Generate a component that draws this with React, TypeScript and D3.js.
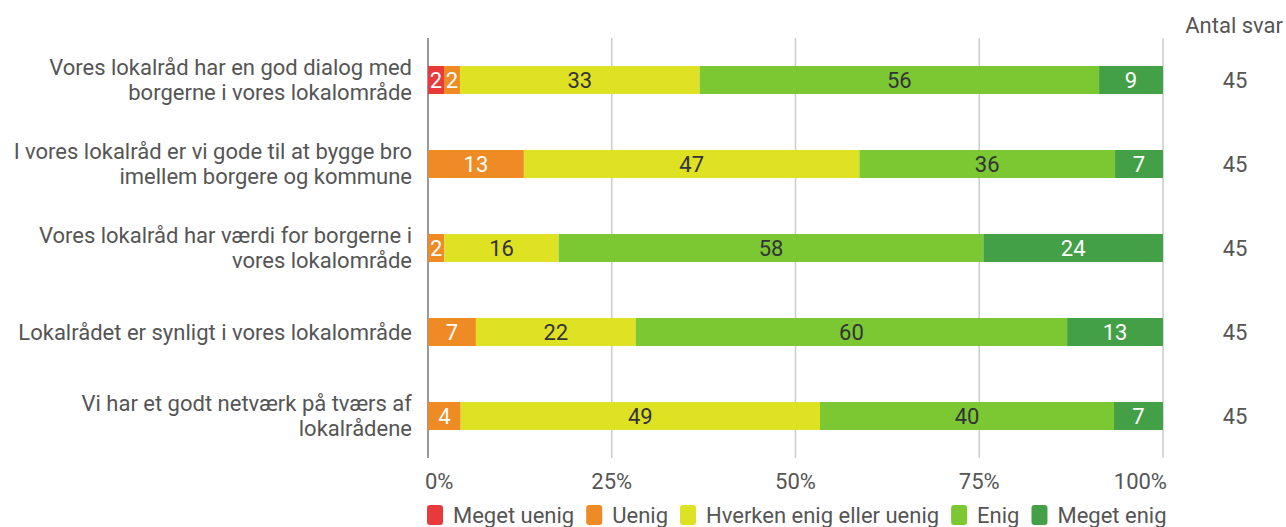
import { useRef, useEffect } from "react";
import * as d3 from "d3";

const questions = [
  ["Vores lokalråd har en god dialog med", "borgerne i vores lokalområde"],
  ["I vores lokalråd er vi gode til at bygge bro", "imellem borgere og kommune"],
  ["Vores lokalråd har værdi for borgerne i", "vores lokalområde"],
  ["Lokalrådet er synligt i vores lokalområde"],
  ["Vi har et godt netværk på tværs af", "lokalrådene"],
];

const answers = ["Meget uenig", "Uenig", "Hverken enig eller uenig", "Enig", "Meget enig"];
const colors = ["#e8393b", "#ee8b25", "#dfe123", "#7bc833", "#43a047"];
const textColors = ["#fff", "#fff", "#333", "#333", "#fff"];

// answer counts per question (bar widths)
const counts = [
  [1, 1, 15, 25, 4],
  [0, 6, 21, 16, 3],
  [0, 1, 7, 26, 11],
  [0, 3, 10, 27, 6],
  [0, 2, 22, 18, 3],
];
// percentage labels as shown
const pctLabels = [
  [2, 2, 33, 56, 9],
  [0, 13, 47, 36, 7],
  [0, 2, 16, 58, 24],
  [0, 7, 22, 60, 13],
  [0, 4, 49, 40, 7],
];
const antalSvar = [45, 45, 45, 45, 45];
const ticks = [0, 0.25, 0.5, 0.75, 1];

export default function App() {
  const ref = useRef<SVGSVGElement>(null);

  useEffect(() => {
    if (!ref.current) return;
    const W = 1286, H = 527;
    const svg = d3.select(ref.current);
    svg.selectAll("*").remove();
    const font = "Roboto, sans-serif";
    const fs = 22;
    const gray = "#555";

    const x = d3.scaleLinear().domain([0, 1]).range([428, 1163]);
    const y = d3.scaleBand<number>().domain(d3.range(questions.length)).range([38, 458])
      .paddingInner(2 / 3).paddingOuter(1 / 3);

    // Grid
    ticks.forEach((t, i) => {
      svg.append("line").attr("x1", x(t)).attr("x2", x(t)).attr("y1", 38).attr("y2", 458)
        .attr("stroke", i === 0 ? "#999" : "#ccc").attr("stroke-width", i === 0 ? 2 : 1.5);
      svg.append("text").attr("x", i === 0 ? x(t) - 3 : i === ticks.length - 1 ? x(t) + 4 : x(t))
        .attr("y", 481).attr("dy", "0.35em")
        .attr("text-anchor", i === 0 ? "start" : i === ticks.length - 1 ? "end" : "middle")
        .attr("font-family", font).attr("font-size", fs).attr("fill", gray)
        .text(`${Math.round(t * 100)}%`);
    });

    // Bars
    counts.forEach((row, r) => {
      const total = d3.sum(row);
      let acc = 0;
      row.forEach((c, k) => {
        if (c === 0) return;
        const x0 = x(acc / total);
        acc += c;
        const x1 = x(acc / total);
        svg.append("rect").attr("x", x0).attr("y", y(r)!).attr("width", x1 - x0)
          .attr("height", y.bandwidth()).attr("fill", colors[k]);
        svg.append("text").attr("x", (x0 + x1) / 2).attr("y", y(r)! + y.bandwidth() / 2)
          .attr("dy", "0.35em").attr("text-anchor", "middle")
          .attr("font-family", font).attr("font-size", fs).attr("fill", textColors[k])
          .text(pctLabels[r][k]);
      });

      // Category label
      const lines = questions[r];
      const cy = y(r)! + y.bandwidth() / 2;
      const lh = 25;
      lines.forEach((ln, li) => {
        svg.append("text").attr("x", 412)
          .attr("y", cy + (li - (lines.length - 1) / 2) * lh)
          .attr("dy", "0.35em").attr("text-anchor", "end")
          .attr("font-family", font).attr("font-size", fs).attr("fill", gray).text(ln);
      });

      // Count
      svg.append("text").attr("x", 1235).attr("y", cy).attr("dy", "0.35em")
        .attr("text-anchor", "middle").attr("font-family", font).attr("font-size", fs)
        .attr("fill", gray).text(antalSvar[r]);
    });

    svg.append("text").attr("x", 1283).attr("y", 25).attr("dy", "0.35em")
      .attr("text-anchor", "end").attr("font-family", font).attr("font-size", fs)
      .attr("fill", gray).text("Antal svar");

    // Legend
    let lx = 427;
    answers.forEach((a, k) => {
      svg.append("rect").attr("x", lx).attr("y", 505).attr("width", 16).attr("height", 20)
        .attr("rx", 3).attr("fill", colors[k]);
      const t = svg.append("text").attr("x", lx + 26).attr("y", 515.5).attr("dy", "0.35em")
        .attr("font-family", font).attr("font-size", fs).attr("fill", gray).text(a);
      const w = (t.node() as SVGTextElement).getComputedTextLength();
      lx += 26 + w + 12;
    });

    svg.attr("width", W).attr("height", H);
  }, []);

  return <svg ref={ref} style={{ position: "absolute", left: 0, top: 0, display: "block" }} />;
}
